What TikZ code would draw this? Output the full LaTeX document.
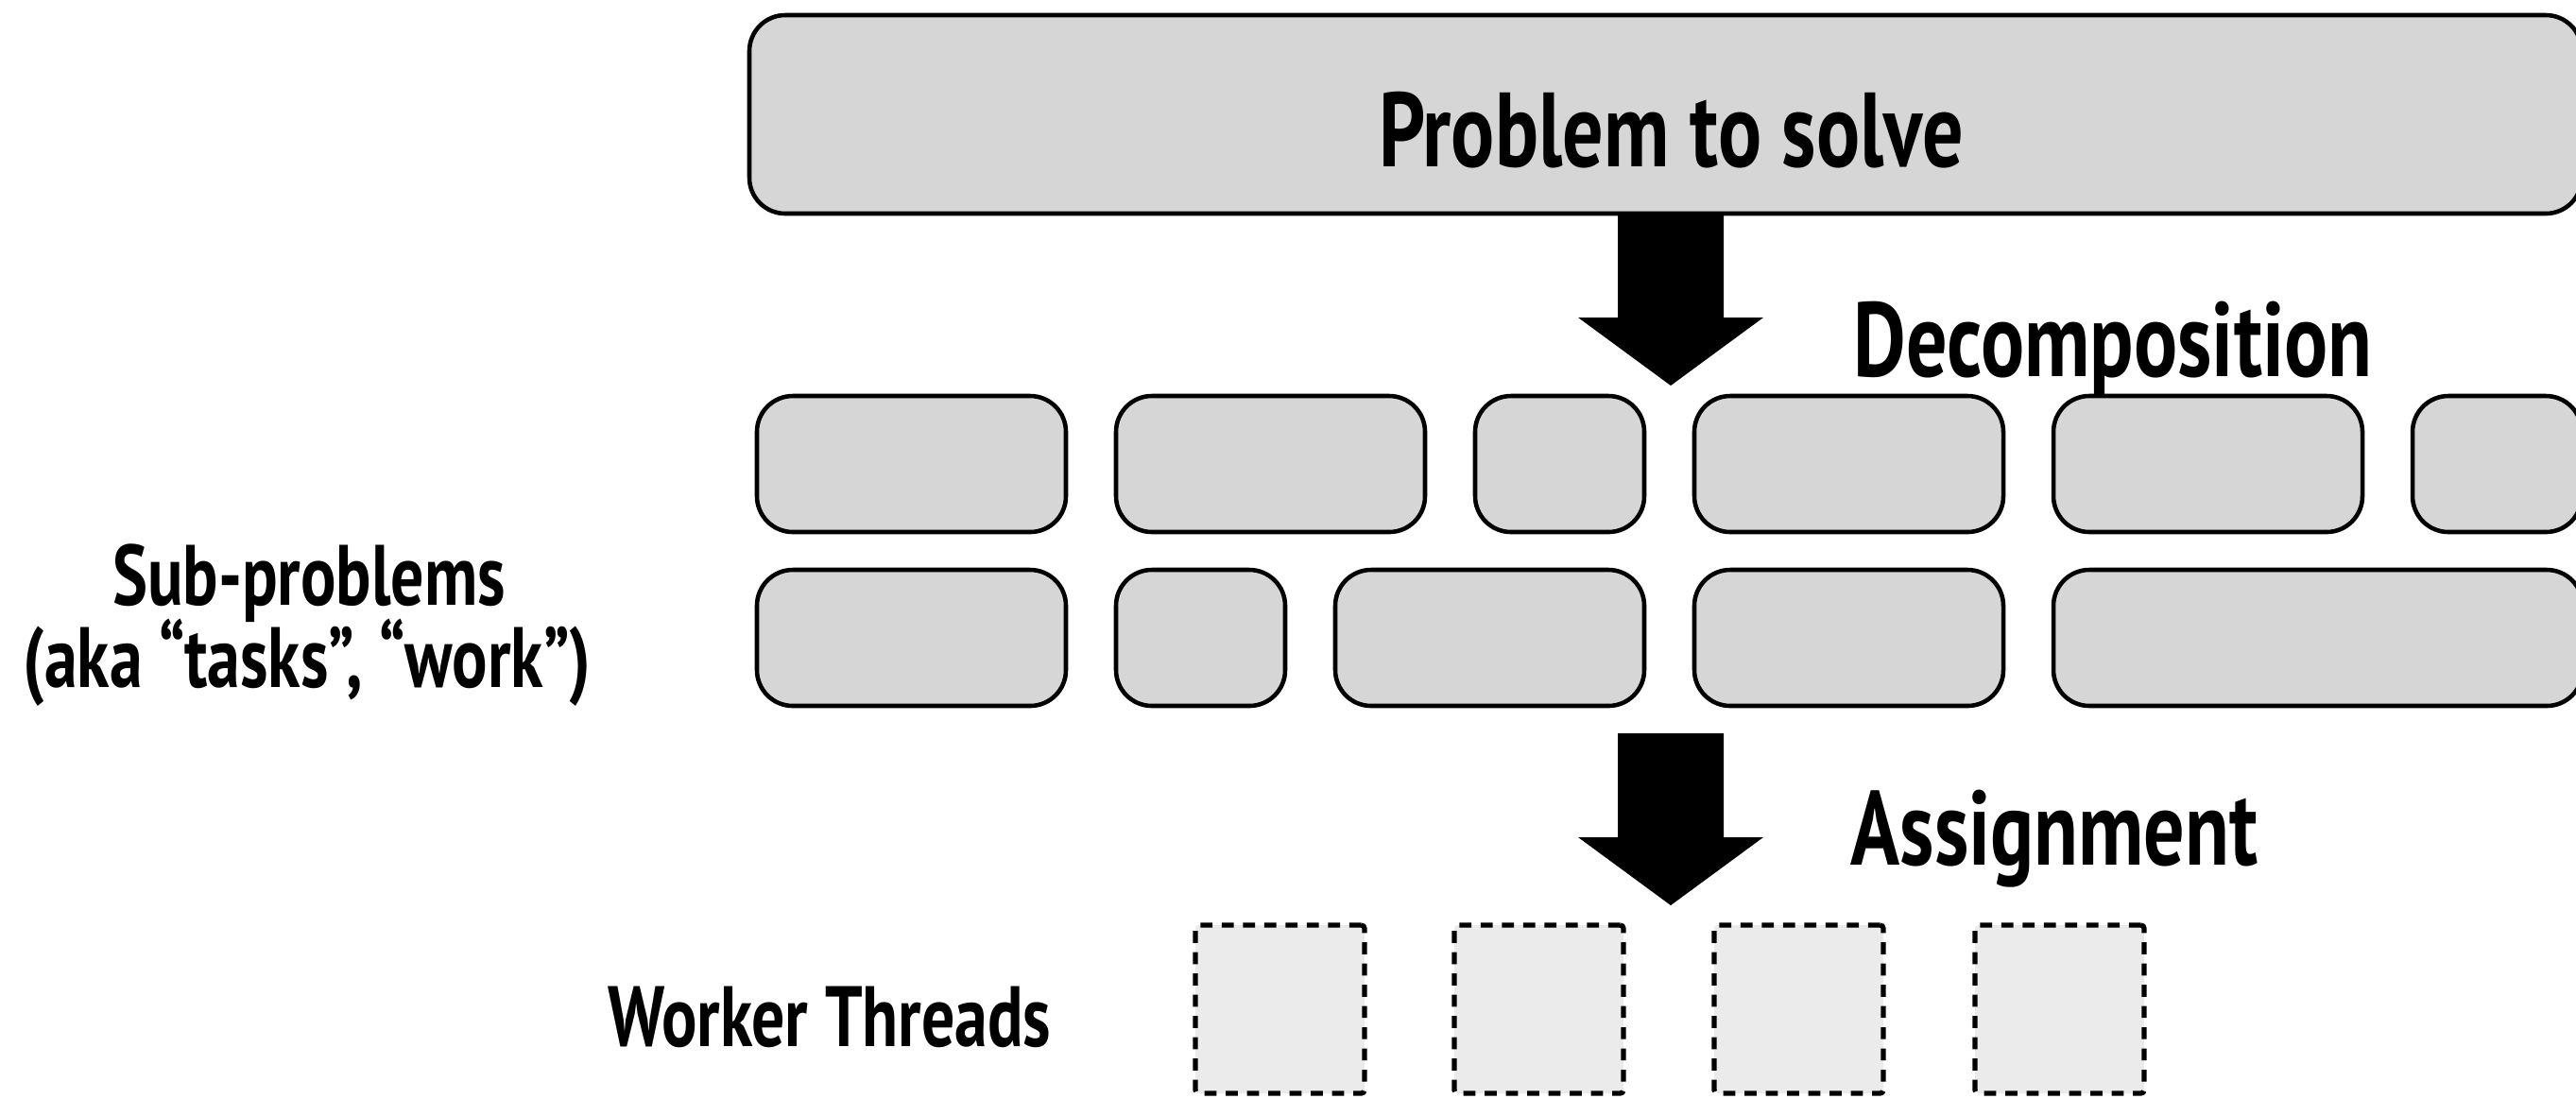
\documentclass[tikz,border=0pt]{standalone}
\usepackage{fontspec}
\setmainfont{PT Sans}[FakeStretch=0.77]
\usepackage{tikz}
\usetikzlibrary{positioning, calc}
\definecolor{taskgray}{RGB}{214, 214, 214}
\definecolor{workgray}{RGB}{235, 235, 235}
\tikzset{
  task/.style={rounded corners=0.38cm, draw=black, fill=taskgray, line width=1.3pt,
               minimum width=#1, minimum height=1.44cm, inner sep=0pt, outer sep=0pt},
  worker/.style={draw=black, fill=workgray, line width=1.5pt,
                 dash pattern=on 3.6pt off 2.8pt, rounded corners=1pt,
                 minimum width=1.79cm, minimum height=1.78cm,
                 inner sep=0pt, outer sep=0pt},
  head/.style={font=\fontsize{31.8}{38}\selectfont\bfseries, inner sep=0pt},
  lbl/.style={font=\fontsize{25.8}{31}\selectfont\bfseries, inner sep=0pt},
  fatarr/.style={fill=black, to path={
    ($(\tikztostart)+(-0.56,0)$) -- ($(\tikztotarget)+(-0.56,0.72)$)
    -- ($(\tikztotarget)+(-0.98,0.72)$) -- (\tikztotarget)
    -- ($(\tikztotarget)+(0.98,0.72)$) -- ($(\tikztotarget)+(0.56,0.72)$)
    -- ($(\tikztostart)+(0.56,0)$) -- cycle}},
}

\begin{document}
\begin{tikzpicture}

\clip (0,0) rectangle (27.26,-11.62);

% ===================== problem ==================
\node[task=19.39cm, minimum height=2.10cm, anchor=north west]
  (problem) at (7.93,-0.16) {};
\node[head, anchor=base] (probtxt) at ($(problem.south)+(0.06,0.50)$)
  {Problem to solve};

% decomposition arrow
\coordinate (dtip) at (17.68,-4.08);
\coordinate (dsrc) at (dtip |- problem.south);
\path[fatarr] (dsrc) to (dtip);
\node[head, anchor=base west] (decomp) at (19.61,-3.98) {Decomposition};

% ===================== sub-problems ==================
% first row
\node[task=3.27cm, anchor=north west] (t11) at (8.01,-4.19) {};
\node[task=3.27cm, right=0.53cm of t11] (t12) {};
\node[task=1.79cm, right=0.53cm of t12] (t13) {};
\node[task=3.27cm, right=0.53cm of t13] (t14) {};
\node[task=3.27cm, right=0.53cm of t14] (t15) {};
\node[task=1.79cm, right=0.53cm of t15] (t16) {};
% second row
\node[task=3.27cm, below=0.40cm of t11] (t21) {};
\node[task=1.79cm, right=0.53cm of t21] (t22) {};
\node[task=3.27cm, right=0.53cm of t22] (t23) {};
\node[task=3.27cm, right=0.53cm of t23] (t24) {};
\node[task=5.60cm, right=0.53cm of t24] (t25) {};

\node[lbl, anchor=base] (subs) at (3.27,-6.40) {Sub-problems};
\node[lbl, anchor=base] (aka) at (3.25,-7.27) {(aka “tasks”, “work”)};

% assignment arrow
\coordinate (asrc) at (17.68,-7.76);
\coordinate (atip) at (17.68,-9.58);
\path[fatarr] (asrc) to (atip);
\node[head, anchor=base west] (assign) at (19.58,-9.15) {Assignment};

% ===================== workers ==================
\foreach \i/\x in {1/12.65, 2/15.39, 3/18.14, 4/20.90} {
  \node[worker, anchor=north west] (w\i) at (\x,-9.79) {};
}
\node[lbl, anchor=base] (workers) at (8.78,-11.07) {Worker Threads};

\end{tikzpicture}
\end{document}
